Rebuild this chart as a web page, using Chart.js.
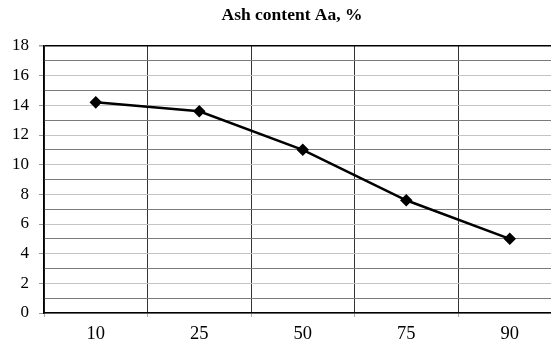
<!DOCTYPE html>
<html>
<head>
<meta charset="utf-8">
<script src="https://cdn.jsdelivr.net/npm/chart.js@4/dist/chart.umd.min.js"></script>
<style>
  html, body { margin: 0; padding: 0; background: #fff; overflow: hidden; }
  #wrap { width: 584px; height: 344px; }
</style>
</head>
<body>
<div id="wrap"><canvas id="c" width="584" height="344"></canvas></div>
<script>
const categories = ['10', '25', '50', '75', '90'];
const ashContent = [14.2, 13.6, 11.0, 7.6, 5.0];
const yMin = 0, yMax = 18, yStep = 1;

const serif = '"Liberation Serif", "Times New Roman", serif';

new Chart(document.getElementById('c'), {
    type: 'line',
    data: {
        labels: categories,
        datasets: [{
            label: 'Ash content Aa, %',
            data: ashContent,
            borderColor: '#000',
            backgroundColor: '#000',
            borderWidth: 2.5,
            pointStyle: 'rectRot',
            pointRadius: 4.5,
            tension: 0
        }]
    },
    options: {
        responsive: false,
        animation: false,
        layout: { padding: 0 },
        plugins: {
            legend: { display: false },
            tooltip: { enabled: false },
            title: {
                display: true,
                text: 'Ash content Aa, %',
                color: '#000',
                font: { family: serif, size: 17.5, weight: 'bold' },
                padding: { top: 5, bottom: 20 }
            }
        },
        scales: {
            x: {
                offset: true,
                afterFit: scale => { scale.height = 31; },
                grid: {
                    offset: true,
                    color: '#333',
                    tickColor: '#aaa',
                    tickLength: 4,
                    lineWidth: 1
                },
                border: { color: '#000', width: 1.5 },
                ticks: {
                    color: '#000',
                    font: { family: serif, size: 18.5 },
                    padding: 6.5
                }
            },
            y: {
                min: yMin,
                max: yMax,
                afterFit: scale => { scale.width = 44; },
                grid: {
                    color: ctx => ctx.tick && ctx.tick.value === yMax ? '#000'
                        : (ctx.tick && ctx.tick.value % 2 === 0 ? '#c4c4c4' : '#7a7a7a'),
                    tickColor: ctx => ctx.tick && ctx.tick.value % 2 === 0 ? '#999' : 'rgba(0,0,0,0)',
                    tickLength: 5,
                    lineWidth: ctx => ctx.tick && ctx.tick.value === yMax ? 1.5 : 1
                },
                border: { color: '#000', width: 1.5 },
                ticks: {
                    stepSize: yStep,
                    autoSkip: false,
                    color: '#000',
                    font: { family: serif, size: 17 },
                    padding: 10,
                    callback: v => (v % 2 === 0 ? v : '')
                }
            },
            // empty right-hand axis: keeps the plot's right edge just past the window
            yRight: {
                position: 'right',
                min: yMin,
                max: yMax,
                afterFit: scale => { scale.width = 22.5; },
                grid: { drawOnChartArea: false, drawTicks: false },
                border: { display: false },
                ticks: { display: false }
            }
        }
    }
});
</script>
</body>
</html>
